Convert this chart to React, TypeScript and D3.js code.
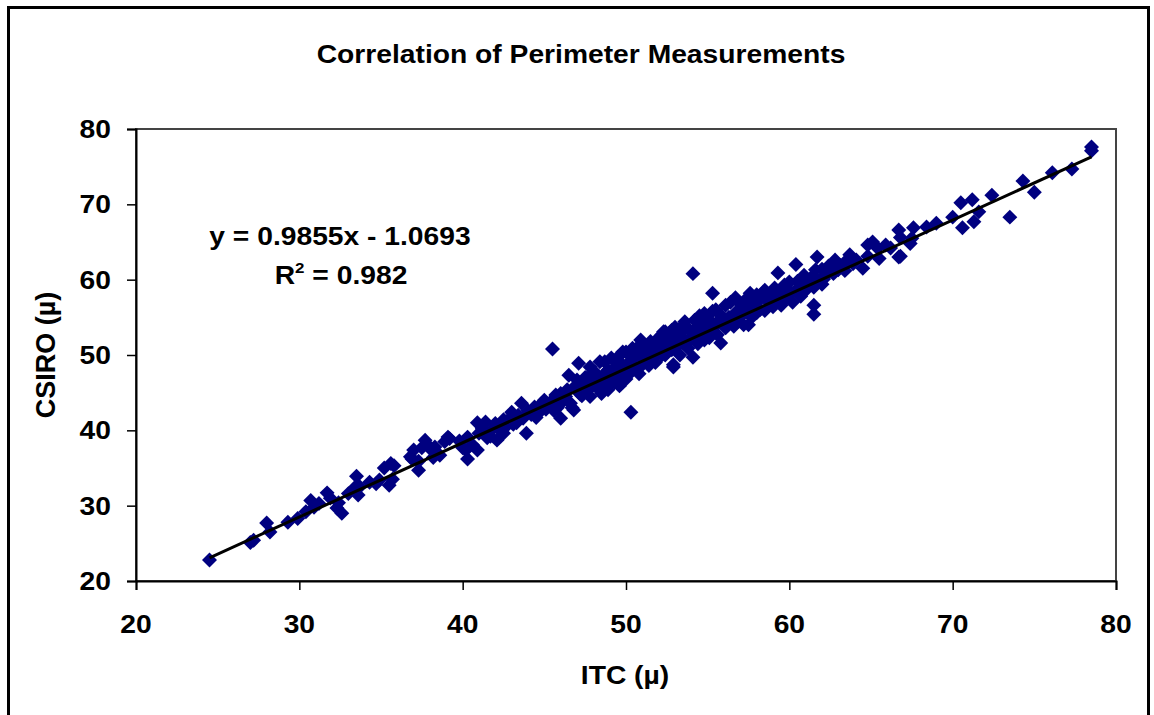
import React, { useEffect, useRef } from "react";
import * as d3 from "d3";

// ITC vs CSIRO perimeter readings, [itc, csiro]
const lowRange: [number, number][] = [
  [24.5, 22.8], [27.0, 25.1], [27.2, 25.4], [28.0, 27.7], [28.2, 26.5], [29.3, 27.8],
  [29.9, 28.3], [30.4, 29.2], [30.7, 30.7], [30.9, 29.8], [31.2, 30.3], [31.7, 31.7],
  [31.9, 31.0], [32.3, 29.7], [32.6, 29.0], [32.4, 30.4], [33.0, 31.6], [33.5, 33.9],
  [33.6, 31.4], [33.4, 32.4], [33.7, 32.5], [34.3, 33.1], [34.7, 32.9], [34.9, 33.4],
  [35.2, 35.0], [35.5, 32.7], [35.6, 35.6], [35.7, 33.5], [35.8, 35.3], [36.8, 36.5],
  [36.9, 36.2], [37.0, 37.4], [37.3, 35.9], [37.3, 34.7], [37.5, 37.7], [37.7, 38.7],
  [37.8, 38.2], [38.0, 37.6], [38.2, 36.4], [38.3, 37.8], [38.6, 36.7], [38.9, 38.5],
  [39.1, 39.1], [39.2, 38.9], [39.8, 38.6],
];

const midRange: [number, number][] = [
  [40.0, 37.7], [40.2, 37.4], [40.3, 39.1], [40.3, 36.2], [40.6, 38.1], [40.9, 37.4],
  [40.9, 41.0], [41.0, 39.6], [41.2, 40.2], [41.4, 41.1], [41.5, 39.0], [41.7, 39.2],
  [41.9, 40.3], [42.0, 40.9], [42.1, 38.7], [42.3, 40.0], [42.5, 41.4], [42.5, 39.6],
  [42.7, 40.6], [42.9, 41.6], [43.0, 42.4], [43.1, 40.8], [43.3, 41.0], [43.4, 42.0],
  [43.6, 43.6], [43.7, 41.6], [43.9, 39.6], [44.0, 42.6], [44.2, 42.1], [44.4, 43.1],
  [44.5, 41.7], [44.7, 42.4], [44.8, 43.5], [45.0, 44.0], [45.1, 42.8], [45.3, 43.4],
  [45.4, 43.8], [45.5, 50.8], [45.6, 42.6], [45.7, 44.7], [45.8, 43.0], [45.9, 44.1],
  [46.0, 41.6], [46.0, 44.9], [46.2, 44.0], [46.3, 44.5], [46.4, 45.4], [46.5, 47.3],
  [46.6, 43.6], [46.7, 43.0], [46.8, 42.7], [46.9, 45.9], [47.0, 46.7], [47.1, 48.9],
  [47.2, 44.8],
];

const denseRange: [number, number][] = [
  [47.3, 46.0], [47.3, 44.6], [47.4, 45.5], [47.5, 45.3], [47.5, 47.0], [47.6, 46.9],
  [47.8, 48.4], [47.8, 45.6], [47.8, 44.5], [48.0, 46.3], [48.0, 47.6], [48.1, 47.7],
  [48.2, 46.4], [48.3, 45.5], [48.3, 47.0], [48.4, 49.1], [48.4, 46.2], [48.5, 46.7],
  [48.5, 44.9], [48.7, 49.1], [48.7, 47.5], [48.8, 45.8], [48.9, 45.4], [48.9, 48.0],
  [49.0, 47.0], [49.1, 47.5], [49.1, 49.6], [49.2, 47.4], [49.3, 46.4], [49.3, 48.3],
  [49.5, 49.7], [49.5, 47.0], [49.6, 45.9], [49.8, 48.7], [49.8, 50.4], [49.8, 47.3],
  [50.0, 50.4], [50.0, 48.0], [50.0, 46.8], [50.1, 48.3], [50.2, 49.0], [50.3, 42.4],
  [50.3, 47.7], [50.4, 49.4], [50.4, 50.9], [50.6, 49.9], [50.6, 48.2], [50.8, 47.5],
  [50.8, 51.2], [50.9, 51.3], [50.9, 52.0], [51.0, 48.7], [51.0, 50.2], [51.1, 49.3],
  [51.2, 49.6], [51.4, 50.9], [51.4, 48.6], [51.5, 49.3], [51.5, 51.8], [51.7, 50.5],
  [51.8, 51.7], [51.8, 49.0], [52.0, 50.4], [52.0, 52.3], [52.1, 51.0], [52.2, 52.7],
  [52.2, 50.0], [52.3, 53.1], [52.3, 51.2], [52.4, 50.0], [52.4, 53.1], [52.6, 51.2],
  [52.6, 52.4], [52.8, 53.3], [52.8, 50.7], [52.9, 48.4], [52.9, 48.7], [53.0, 53.7],
  [53.0, 51.7], [53.1, 52.0], [53.2, 51.3], [53.3, 50.0], [53.3, 52.8], [53.5, 53.9],
  [53.5, 51.6], [53.6, 52.0], [53.6, 54.4], [53.8, 50.9], [53.9, 53.3], [54.0, 52.3],
  [54.1, 60.8], [54.1, 49.7], [54.2, 54.6], [54.2, 52.6], [54.4, 53.8], [54.4, 51.5],
  [54.5, 52.7], [54.5, 55.2], [54.7, 54.0], [54.8, 52.0], [54.8, 55.5], [55.0, 53.4],
  [55.1, 54.6], [55.1, 52.3], [55.2, 53.3], [55.3, 58.2], [55.3, 55.8], [55.4, 53.7],
  [55.5, 56.0], [55.5, 54.2], [55.6, 52.7], [55.8, 51.6], [55.8, 55.3], [55.9, 54.4],
  [56.1, 56.6], [56.1, 53.6], [56.2, 54.4], [56.3, 55.0], [56.4, 54.4], [56.4, 57.0],
  [56.6, 53.8], [56.7, 57.6], [56.7, 55.6], [56.9, 54.5], [57.0, 55.3], [57.0, 56.8],
  [57.1, 55.4], [57.2, 54.0], [57.3, 57.3], [57.3, 55.7], [57.5, 54.0], [57.5, 56.3],
  [57.6, 58.2], [57.6, 57.4], [57.7, 56.6], [57.7, 55.0], [57.9, 57.0], [58.0, 58.0],
  [58.0, 55.6], [58.1, 56.3], [58.2, 56.0], [58.2, 57.4], [58.4, 58.3], [58.5, 58.6],
  [58.5, 55.9], [58.7, 57.2], [58.8, 56.9], [58.8, 58.0], [59.0, 56.4], [59.1, 58.9],
  [59.2, 57.3], [59.3, 60.9], [59.3, 57.3], [59.4, 57.7], [59.5, 58.6], [59.5, 56.6],
  [59.7, 59.3], [59.8, 57.5], [60.0, 58.0], [60.0, 59.7], [60.1, 58.3], [60.2, 57.0],
  [60.4, 62.0], [60.4, 58.6], [60.5, 59.8], [60.7, 59.6], [60.7, 57.8], [60.9, 60.6],
  [61.0, 58.6], [61.1, 59.2], [61.2, 59.4], [61.3, 60.2], [61.5, 56.6], [61.5, 55.4],
  [61.5, 59.0], [61.6, 61.3], [61.7, 63.0], [61.7, 60.0], [61.9, 60.0], [62.0, 61.4],
  [62.0, 59.4], [62.1, 60.1],
];

const highRange: [number, number][] = [
  [62.2, 60.6], [62.4, 61.8], [62.5, 61.5], [62.7, 62.2], [62.7, 60.8], [62.8, 62.6],
  [63.0, 61.3], [63.1, 61.9], [63.4, 62.3], [63.4, 61.2], [63.7, 63.3], [63.9, 62.1],
  [64.1, 62.6], [64.5, 61.5], [64.8, 64.6], [64.8, 63.1], [65.1, 65.0], [65.4, 64.2],
  [65.5, 62.8], [65.9, 64.6], [66.2, 64.2], [66.7, 66.6], [66.7, 63.0], [66.8, 63.1],
  [66.8, 65.6], [67.4, 64.8], [67.5, 65.5], [67.6, 66.9], [68.4, 67.0], [69.0, 67.5],
  [70.0, 68.3], [70.5, 70.2], [70.6, 66.9], [71.2, 70.6], [71.3, 67.7], [71.6, 69.0],
  [72.4, 71.2], [73.5, 68.3], [74.3, 73.1], [75.0, 71.6], [76.1, 74.2], [77.3, 74.7],
  [78.5, 77.6], [78.5, 77.1],
];

const xTicks = [20, 30, 40, 50, 60, 70, 80];
const yTicks = [20, 30, 40, 50, 60, 70, 80];
const slope = 0.9855;
const intercept = -1.0693;
const rSquared = 0.982;

const App = () => {
  const chartRef = useRef<SVGSVGElement | null>(null);

  useEffect(() => {
    const width = 1154;
    const height = 715;
    const left = 136;
    const right = 1116;
    const top = 129;
    const bottom = 581;
    const font = "'Liberation Sans', Arial, sans-serif";
    const stretch = 1.13;

    const data = [...lowRange, ...midRange, ...denseRange, ...highRange];

    const x = d3.scaleLinear().domain([20, 80]).range([left, right]);
    const y = d3.scaleLinear().domain([20, 80]).range([bottom, top]);

    const svg = d3.select(chartRef.current);
    svg.selectAll("*").remove();
    svg.attr("width", width).attr("height", height);

    svg.append("rect").attr("width", width).attr("height", height).attr("fill", "#fff");

    // outer chart border
    svg
      .append("rect")
      .attr("x", 8.5)
      .attr("y", 7.5)
      .attr("width", 1140)
      .attr("height", 730)
      .attr("fill", "none")
      .attr("stroke", "#000")
      .attr("stroke-width", 3);

    // plot frame
    svg
      .append("rect")
      .attr("x", left)
      .attr("y", top)
      .attr("width", right - left)
      .attr("height", bottom - top)
      .attr("fill", "none")
      .attr("stroke", "#444")
      .attr("stroke-width", 2);

    const label = (
      text: string,
      tx: number,
      ty: number,
      anchor: string,
      size: number
    ) =>
      svg
        .append("text")
        .attr("transform", `translate(${tx},${ty}) scale(${stretch},1)`)
        .attr("text-anchor", anchor)
        .attr("font-family", font)
        .attr("font-weight", "bold")
        .attr("font-size", size)
        .attr("fill", "#000")
        .text(text);

    // axes
    const xAxis = svg.append("g").attr("transform", `translate(0,${bottom})`);
    xAxis.call(d3.axisBottom(x).tickValues(xTicks).tickSize(9).tickFormat(() => ""));
    xAxis.select(".domain").attr("stroke", "#000").attr("stroke-width", 2);
    xAxis.selectAll(".tick line").attr("stroke", "#000").attr("stroke-width", 1.5);

    const yAxis = svg.append("g").attr("transform", `translate(${left},0)`);
    yAxis.call(d3.axisLeft(y).tickValues(yTicks).tickSize(9).tickFormat(() => ""));
    yAxis.select(".domain").attr("stroke", "#000").attr("stroke-width", 2);
    yAxis.selectAll(".tick line").attr("stroke", "#000").attr("stroke-width", 1.5);

    xTicks.forEach((t) => label(String(t), x(t), 633, "middle", 25));
    yTicks.forEach((t) => label(String(t), 111, y(t) + 9, "end", 25));

    // points
    svg
      .append("g")
      .selectAll("path")
      .data(data)
      .join("path")
      .attr("d", d3.symbol(d3.symbolSquare).size(112)())
      .attr("transform", (d) => `translate(${x(d[0])},${y(d[1])}) rotate(45)`)
      .attr("fill", "#000080");

    // linear trendline
    const xExtent = d3.extent(data, (d) => d[0]) as [number, number];
    svg
      .append("line")
      .attr("x1", x(xExtent[0]))
      .attr("y1", y(slope * xExtent[0] + intercept))
      .attr("x2", x(xExtent[1]))
      .attr("y2", y(slope * xExtent[1] + intercept))
      .attr("stroke", "#000")
      .attr("stroke-width", 3);

    // titles
    label("Correlation of Perimeter Measurements", 581, 63, "middle", 25);
    label("ITC (\u00b5)", 625, 684, "middle", 25);
    svg
      .append("text")
      .attr("transform", `translate(55,355) rotate(-90)`)
      .attr("text-anchor", "middle")
      .attr("font-family", font)
      .attr("font-weight", "bold")
      .attr("font-size", 27)
      .text("CSIRO (\u00b5)");

    label(`y = ${slope}x - ${Math.abs(intercept)}`, 340, 245, "middle", 25);
    const r2 = label("", 341, 284, "middle", 25);
    r2.append("tspan").text("R");
    r2.append("tspan").attr("dy", -11).attr("font-size", 15).text("2");
    r2.append("tspan").attr("dy", 11).text(` = ${rSquared}`);
  }, []);

  return (
    <svg ref={chartRef} style={{ position: "absolute", left: 0, top: 0 }} />
  );
};

export default App;
